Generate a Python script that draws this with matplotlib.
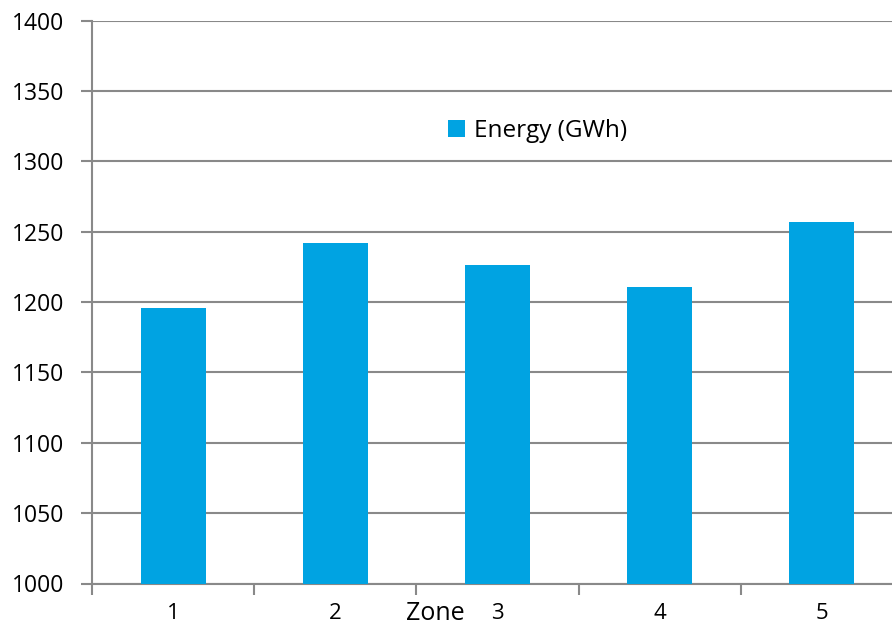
import matplotlib
matplotlib.use("Agg")
import matplotlib.pyplot as plt

zones = ["1", "2", "3", "4", "5"]
energy = [1196, 1242, 1226, 1211, 1257]
series_name = "Energy (GWh)"
yticks = [1000, 1050, 1100, 1150, 1200, 1250, 1300, 1350, 1400]

plt.rcParams['font.family'] = ['Open Sans', 'DejaVu Sans']

W, H = 892, 628
fig = plt.figure(figsize=(W/100, H/100), dpi=100)
left, right, top, bottom = 92, 903, 20.5, 583.5
ax = fig.add_axes([left/W, 1-bottom/H, (right-left)/W, (bottom-top)/H])

grey = "#898989"
x = list(range(len(zones)))
ax.bar(x, energy, width=0.4, color="#00A3E2", zorder=3, label=series_name)
ax.set_xlim(-0.5, len(zones)-0.5)
ax.set_ylim(1000, 1400)
ax.set_yticks(yticks)
ax.set_yticklabels([str(v) for v in yticks], fontsize=16.5)
ax.yaxis.grid(True, color=grey, linewidth=1.5, zorder=0)
ax.set_axisbelow(True)

ax.set_xticks(x)
ax.set_xticklabels(zones, fontsize=16)
ax.set_xticks([i+0.5 for i in range(-1, len(zones))], minor=True)
ax.tick_params(axis='x', which='major', length=0, pad=14)
ax.tick_params(axis='x', which='minor', length=8, width=1.5, color=grey)
ax.tick_params(axis='y', length=8, width=1.5, color=grey, pad=12)

for s in ['top', 'right']:
    ax.spines[s].set_visible(False)
for s in ['left', 'bottom']:
    ax.spines[s].set_color(grey)
    ax.spines[s].set_linewidth(1.5)

fig.text(435/W, 1-614/H, "Zone", fontsize=18, ha='center', va='center')

leg = ax.legend(loc='center left', bbox_to_anchor=(436/W, 1-131/H), bbox_transform=fig.transFigure,
                frameon=False, fontsize=17.5, handlelength=0.7, handleheight=0.7,
                handletextpad=0.35, borderpad=0)

fig.savefig("out.png", dpi=100)
